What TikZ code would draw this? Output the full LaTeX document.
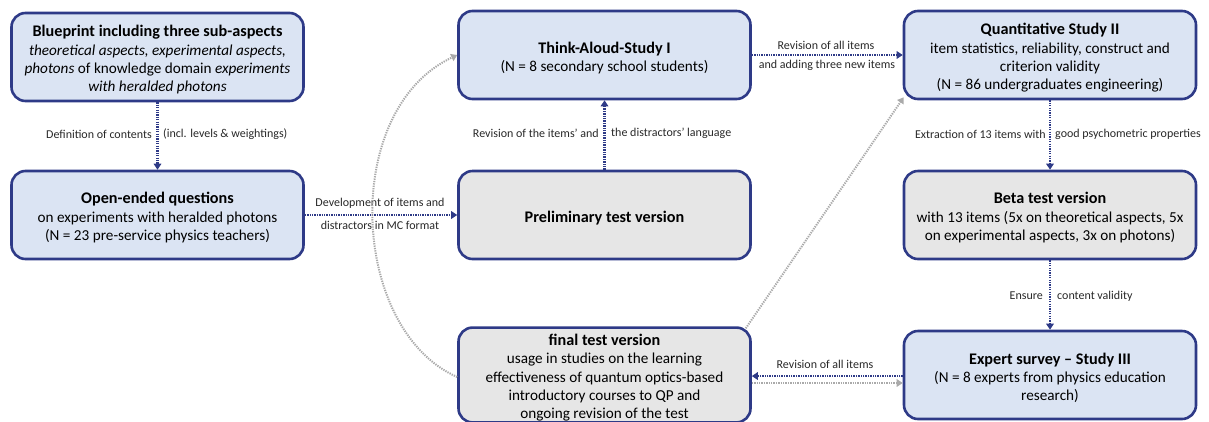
\documentclass[tikz,border=0pt]{standalone}
\usepackage{fontspec}
\setmainfont{Carlito}
\usetikzlibrary{arrows.meta}
\definecolor{navy}{RGB}{46,58,135}
\definecolor{boxblue}{RGB}{219,228,243}
\definecolor{boxgray}{RGB}{230,230,230}
\definecolor{arrgray}{RGB}{170,170,170}
\definecolor{lbltext}{RGB}{40,40,40}
\begin{document}
\begin{tikzpicture}[x=1pt,y=-1pt,
 box/.style={draw=navy, line width=2.6pt, rounded corners=14pt, minimum width=292pt, minimum height=88pt, align=center, inner sep=1pt, font=\fontsize{15.2}{18.3}\selectfont},
 bluebox/.style={box, fill=boxblue},
 graybox/.style={box, fill=boxgray},
 arr/.style={draw=navy, line width=2.2pt, dash pattern=on 1.3pt off 1.1pt, -{Triangle[length=6pt,width=7.5pt]}},
 garr/.style={draw=arrgray, line width=2pt, dash pattern=on 1.3pt off 1.1pt, -{Triangle[length=6pt,width=7.5pt]}},
 lbl/.style={font=\fontsize{12}{13}\selectfont, text=lbltext, inner sep=0pt}
]
\useasboundingbox (0,0) rectangle (1209,421);

\newcommand{\ttl}[1]{{\bfseries\fontsize{16.2}{18.3}\selectfont\rule{0pt}{17pt}#1}}

\node[bluebox] (bp) at (157.5,57) {\ttl{Blueprint including three sub-aspects}\\
 \textit{theoretical aspects, experimental aspects,}\\
 \textit{photons} of knowledge domain \textit{experiments}\\
 \textit{with heralded photons}};
\node[bluebox] (oe) at (157.5,215) {\ttl{Open-ended questions}\\
 on experiments with heralded photons\\
 (N = 23 pre-service physics teachers)};
\node[bluebox] (ta) at (604.5,55) {\ttl{Think-Aloud-Study I}\\
 (N = 8 secondary school students)};
\node[graybox] (pre) at (604.5,215) {\ttl{Preliminary test version}};
\node[graybox] (fin) at (604.5,375) {\rule{0pt}{4pt}\ttl{final test version}\\
 usage in studies on the learning\\
 effectiveness of quantum optics-based\\
 introductory courses to QP and\\
 ongoing revision of the test};
\node[bluebox] (qs) at (1050,55) {\ttl{Quantitative Study II}\\
 item statistics, reliability, construct and\\
 criterion validity\\
 (N = 86 undergraduates engineering)};
\node[graybox] (beta) at (1050,215) {\ttl{Beta test version}\\
 with 13 items (5x on theoretical aspects, 5x\\
 on experimental aspects, 3x on photons)};
\node[bluebox] (exp) at (1050,375) {\ttl{Expert survey -- Study III}\\
 (N = 8 experts from physics education\\
 research)};

% blueprint -> open-ended
\draw[arr] (bp.south) -- (oe.north);
\node[lbl, anchor=east] (l1a) at (152,134) {Definition of contents};
\node[lbl, anchor=west] (l1b) at (163,134) {(incl. levels \& weightings)};

% open-ended -> preliminary
\draw[arr] (oe.east) -- (pre.west);
\node[lbl] (l2a) at (380,203) {Development of items and};
\node[lbl] (l2b) at (380,225) {distractors in MC format};

% preliminary -> think aloud
\draw[arr] (pre.north) -- (ta.south);
\node[lbl, anchor=east] (l3a) at (599,133) {Revision of the items' and};
\node[lbl, anchor=west] (l3b) at (611,133) {the distractors' language};

% think aloud -> quantitative
\draw[arr] (ta.east) -- (qs.west);
\node[lbl] (l4a) at (826,45) {Revision of all items};
\node[lbl] (l4b) at (827,65) {and adding three new items};

% quantitative -> beta
\draw[arr] (qs.south) -- (beta.north);
\node[lbl, anchor=east] (l5a) at (1046,134) {Extraction of 13 items with};
\node[lbl, anchor=west] (l5b) at (1055,134) {good psychometric properties};

% beta -> expert
\draw[arr] (beta.south) -- (exp.north);
\node[lbl, anchor=east] (l6a) at (1043,296) {Ensure};
\node[lbl, anchor=west] (l6b) at (1057,296) {content validity};

% expert -> final
\draw[arr] ([yshift=-1pt]exp.west) -- ([yshift=-1pt]fin.east);
\node[lbl] (l7) at (825,364) {Revision of all items};
\draw[garr] ([yshift=-8pt]fin.east) -- ([yshift=-8pt]exp.west);

% gray feedback arrows
\draw[garr] ([yshift=-2pt]fin.west) .. controls (350,330) and (340,110) .. (ta.west);
\draw[garr] ([xshift=-6pt,yshift=-2pt]fin.north east) -- ([xshift=1pt,yshift=3pt]qs.south west);
\end{tikzpicture}
\end{document}
